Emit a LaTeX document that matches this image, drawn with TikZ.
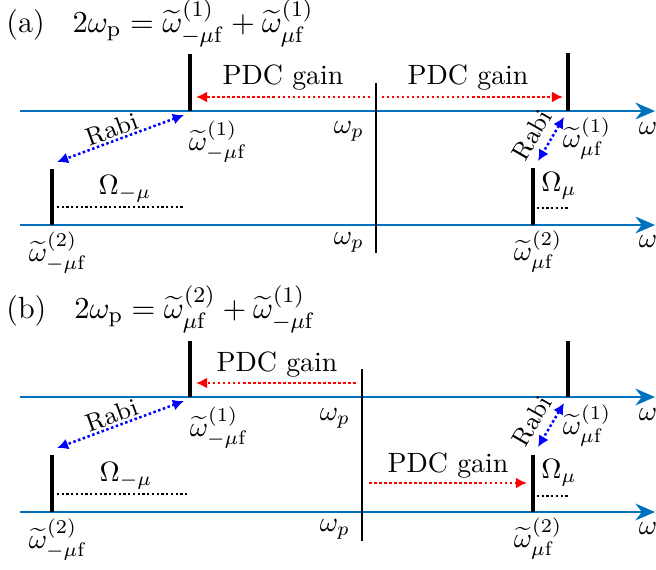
\documentclass[tikz,border=0pt]{standalone}
\usepackage{amsmath,amssymb}
\usetikzlibrary{arrows.meta}
\definecolor{axisblue}{rgb}{0,0.447,0.741}
\newcommand{\wt}[2]{\widetilde{\omega}^{(#1)}_{#2}}

\begin{document}
\begin{tikzpicture}[
  x=0.3584pt, y=-0.3584pt,
  axis/.style={draw=axisblue, line width=0.8pt, -{Stealth[length=7pt,width=6pt]}},
  level/.style={line width=1.6pt},
  pump/.style={line width=0.8pt},
  gain/.style={red, line width=0.9pt, dash pattern=on 0.9pt off 0.9pt, -{Latex[length=4pt,width=4pt]}},
  rabi/.style={blue, line width=0.9pt, dash pattern=on 0.9pt off 0.9pt, {Latex[length=4pt,width=4pt]}-{Latex[length=4pt,width=4pt]}},
  detune/.style={line width=0.8pt, dash pattern=on 0.8pt off 0.9pt},
  lbl/.style={inner sep=1pt},
  title/.style={lbl, anchor=west, font=\fontsize{11}{13}\selectfont}
]
\useasboundingbox (0,0) rectangle (656,569);

% ---------- panel (a) ----------
\node[title] (atitle) at (3,23) {(a)\hspace{10pt}$2\omega_{\mathrm{p}}=\wt{1}{-\mu\mathrm{f}}+\wt{1}{\mu\mathrm{f}}$};

\draw[axis] (20,111) -- (655,111);
\draw[axis] (20,225) -- (655,225);

\coordinate (aL1) at (190,111);
\coordinate (aR1) at (568,111);
\coordinate (aL2) at (52,225);
\coordinate (aR2) at (533,225);
\draw[level] (aL1) -- ++(0,-57);
\draw[level] (aR1) -- ++(0,-58);
\draw[level] (aL2) -- ++(0,-56);
\draw[level] (aR2) -- ++(0,-57);
\draw[pump] (376,83) -- (376,253);

\coordinate (aGc) at (376,97);
\coordinate (aGl) at (196,97);
\coordinate (aGr) at (563,97);
\draw[gain] ([xshift=-2pt]aGc) -- (aGl);
\draw[gain] ([xshift=2pt]aGc) -- (aGr);
\node[lbl] (again1) at (283,78) {PDC gain};
\node[lbl] (again2) at (468,78) {PDC gain};

\coordinate (aRl1) at (184,115);
\coordinate (aRl2) at (57,162);
\draw[rabi] (aRl1) -- (aRl2);
\node[lbl, rotate=20] (arabi1) at (112,129) {\small Rabi};
\coordinate (aRr1) at (564,117);
\coordinate (aRr2) at (538,161);
\draw[rabi] (aRr1) -- (aRr2);
\node[lbl, rotate=60] (arabi2) at (532,135) {\small Rabi};

\draw[detune] (57,207) -- (183,207);
\node[lbl] (aOm1) at (125,189) {$\Omega_{-\mu}$};
\draw[detune] (537,208) -- (570,208);
\node[lbl] (aOm2) at (559,186) {$\Omega_{\mu}$};

\node[lbl] (awl1) at (218,142) {$\wt{1}{-\mu\mathrm{f}}$};
\node[lbl] (awr1) at (587,139) {$\wt{1}{\mu\mathrm{f}}$};
\node[lbl] (awl2) at (58,253) {$\wt{2}{-\mu\mathrm{f}}$};
\node[lbl] (awr2) at (538,252) {$\wt{2}{\mu\mathrm{f}}$};
\node[lbl] (awp1) at (349,131) {$\omega_p$};
\node[lbl] (awp2) at (349,242) {$\omega_p$};
\node[lbl] (aw1) at (648,128) {$\omega$};
\node[lbl] (aw2) at (648,241) {$\omega$};

% ---------- panel (b) ----------
\node[title] (btitle) at (3,309) {(b)\hspace{10pt}$2\omega_{\mathrm{p}}=\wt{2}{\mu\mathrm{f}}+\wt{1}{-\mu\mathrm{f}}$};

\draw[axis] (20,397) -- (655,397);
\draw[axis] (20,512) -- (655,512);

\coordinate (bL1) at (190,397);
\coordinate (bR1) at (568,397);
\coordinate (bL2) at (52,512);
\coordinate (bR2) at (533,512);
\draw[level] (bL1) -- ++(0,-56);
\draw[level] (bR1) -- ++(0,-56);
\draw[level] (bL2) -- ++(0,-57);
\draw[level] (bR2) -- ++(0,-57);
\draw[pump] (362,369) -- (362,541);

\coordinate (bGa) at (356,383);
\coordinate (bGb) at (196,383);
\coordinate (bGc) at (369,483);
\coordinate (bGd) at (527,483);
\draw[gain] (bGa) -- (bGb);
\draw[gain] (bGc) -- (bGd);
\node[lbl] (bgain1) at (277,365) {PDC gain};
\node[lbl] (bgain2) at (448,466) {PDC gain};

\coordinate (bRl1) at (184,401);
\coordinate (bRl2) at (57,448);
\draw[rabi] (bRl1) -- (bRl2);
\node[lbl, rotate=20] (brabi1) at (112,415) {\small Rabi};
\coordinate (bRr1) at (564,403);
\coordinate (bRr2) at (538,447);
\draw[rabi] (bRr1) -- (bRr2);
\node[lbl, rotate=60] (brabi2) at (532,421) {\small Rabi};

\draw[detune] (57,494) -- (187,494);
\node[lbl] (bOm1) at (126,476) {$\Omega_{-\mu}$};
\draw[detune] (537,496) -- (570,496);
\node[lbl] (bOm2) at (559,473) {$\Omega_{\mu}$};

\node[lbl] (bwl1) at (219,428) {$\wt{1}{-\mu\mathrm{f}}$};
\node[lbl] (bwr1) at (587,426) {$\wt{1}{\mu\mathrm{f}}$};
\node[lbl] (bwl2) at (58,540) {$\wt{2}{-\mu\mathrm{f}}$};
\node[lbl] (bwr2) at (538,539) {$\wt{2}{\mu\mathrm{f}}$};
\node[lbl] (bwp1) at (335,418) {$\omega_p$};
\node[lbl] (bwp2) at (335,529) {$\omega_p$};
\node[lbl] (bw1) at (648,414) {$\omega$};
\node[lbl] (bw2) at (648,528) {$\omega$};
\end{tikzpicture}
\end{document}
